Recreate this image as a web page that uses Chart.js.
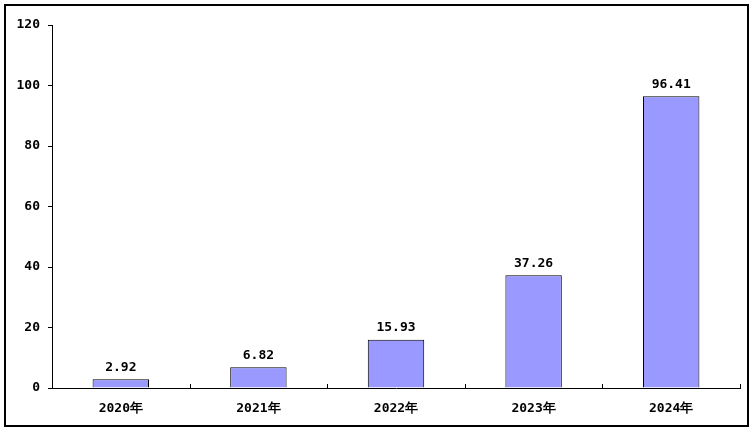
<!DOCTYPE html>
<html>
<head>
<meta charset="utf-8">
<script src="https://cdn.jsdelivr.net/npm/chart.js@4"></script>
<style>
    body { margin: 0; background: #fff; }
    #wrap { position: relative; width: 755px; height: 432px; }
</style>
</head>
<body>
<div id="wrap"><canvas id="myChart" width="755" height="432"></canvas></div>
<script>
const years = ['2020年', '2021年', '2022年', '2023年', '2024年']
const values = [2.92, 6.82, 15.93, 37.26, 96.41]
const yTicks = [0, 20, 40, 60, 80, 100, 120]

const labelFont = 'bold 13px "DejaVu Sans Mono", monospace'

// outer frame, inward x ticks and value labels
const extras = {
    id: 'extras',
    afterDraw(chart) {
        const ctx = chart.ctx
        const x = chart.scales.x
        ctx.save()
        ctx.strokeStyle = '#000'
        ctx.lineWidth = 2
        ctx.strokeRect(5, 5, 743, 421)

        ctx.lineWidth = 1
        ctx.beginPath()
        for (let i = 0; i <= years.length; i++) {
            const px = Math.round(x.getPixelForValue(i - 0.5)) + 0.5
            ctx.moveTo(px, x.top)
            ctx.lineTo(px, x.top - 4)
        }
        ctx.stroke()

        ctx.fillStyle = '#000'
        ctx.font = labelFont
        ctx.textAlign = 'center'
        ctx.textBaseline = 'middle'
        chart.getDatasetMeta(0).data.forEach((bar, i) => {
            ctx.fillText(values[i].toFixed(2), bar.x, bar.y - 12)
        })
        ctx.restore()
    }
}

const myChart = new Chart(document.getElementById('myChart'), {
    type: 'bar',
    data: {
        labels: years,
        datasets: [{
            data: values,
            backgroundColor: '#9999FF',
            borderColor: '#000',
            borderWidth: 1,
            barPercentage: 0.82,
            categoryPercentage: 0.5
        }]
    },
    options: {
        responsive: false,
        animation: false,
        events: [],
        layout: { padding: { top: 25, right: 15, left: 0, bottom: 0 } },
        plugins: { legend: { display: false }, tooltip: { enabled: false } },
        scales: {
            x: {
                grid: { display: false },
                border: { display: true, color: '#000', width: 1 },
                ticks: { color: '#000', font: { family: '"DejaVu Sans Mono", monospace', size: 13, weight: 'bold' }, padding: 5 },
                afterFit(s) { s.height = 44 }
            },
            y: {
                min: 0,
                max: 120,
                afterBuildTicks(s) { s.ticks = yTicks.map(v => ({ value: v })) },
                grid: { drawOnChartArea: false, drawTicks: true, tickLength: 4, color: '#000' },
                border: { display: true, color: '#000', width: 1 },
                ticks: { color: '#000', font: { family: '"DejaVu Sans Mono", monospace', size: 13, weight: 'bold' }, padding: 8 },
                afterFit(s) { s.width = 52 }
            }
        }
    },
    plugins: [extras]
})
</script>
</body>
</html>
